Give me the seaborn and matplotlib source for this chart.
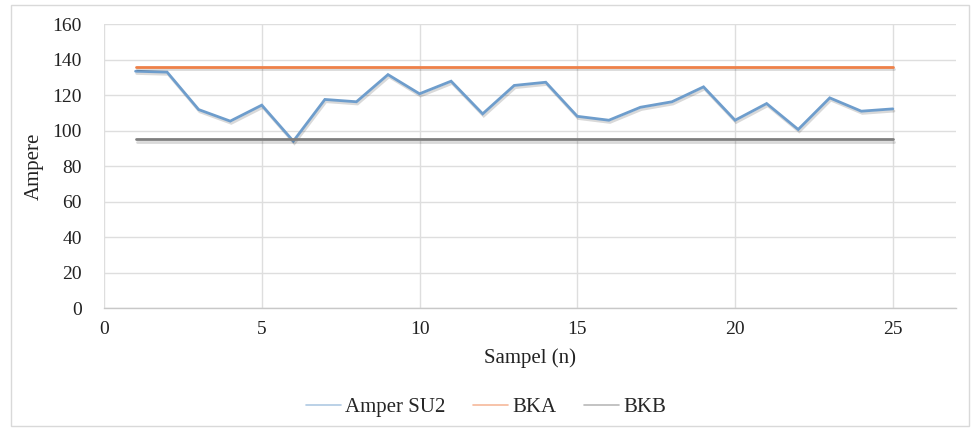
import numpy as np
import pandas as pd
import matplotlib
matplotlib.use("Agg")
import matplotlib.pyplot as plt
import matplotlib.patheffects as pe
import seaborn as sns

# Sample index and measured current
sampel = list(range(1, 26))
amper_su2 = [133.4, 132.9, 111.8, 105.3, 114.3, 94.0, 117.5, 116.2, 131.5, 120.7,
             127.8, 109.4, 125.4, 127.2, 108.0, 105.8, 113.1, 116.2, 124.6, 105.8,
             115.2, 100.6, 118.4, 110.9, 112.2]
# Control limits
bka = 136
bkb = 95

series_names = ["Amper SU2", "BKA", "BKB"]
colors = {"Amper SU2": "#6E9DCC", "BKA": "#EE8048", "BKB": "#7F7F7F"}

df = pd.concat([
    pd.DataFrame({"Sampel": sampel, "Nilai": amper_su2, "Seri": "Amper SU2"}),
    pd.DataFrame({"Sampel": sampel, "Nilai": [bka] * len(sampel), "Seri": "BKA"}),
    pd.DataFrame({"Sampel": sampel, "Nilai": [bkb] * len(sampel), "Seri": "BKB"}),
])

sns.set_theme(style="white")
plt.rcParams["font.family"] = ["Liberation Serif", "DejaVu Serif"]

fig = plt.figure(figsize=(9.72, 4.29), dpi=100)
ax = fig.add_axes([0.107, 0.282, 0.8765, 0.662])

sns.lineplot(data=df, x="Sampel", y="Nilai", hue="Seri", hue_order=series_names,
             palette=colors, linewidth=2.0, ax=ax, legend=False)

shadow = [pe.SimpleLineShadow(offset=(0.8, -1.6), shadow_color="#000000", alpha=0.15),
          pe.Normal()]
for line in ax.get_lines():
    line.set_path_effects(shadow)
    line.set_solid_joinstyle("miter")

ax.set_xlim(0, 27)
ax.set_ylim(0, 160)
ax.set_xticks([0, 5, 10, 15, 20, 25])
ax.set_yticks(range(0, 161, 20))
ax.grid(True, color="#DEDEDE", linewidth=1.0)
ax.set_axisbelow(True)
for s in ["top", "right", "left"]:
    ax.spines[s].set_visible(False)
ax.spines["bottom"].set_color("#C8C8C8")
ax.spines["bottom"].set_linewidth(1.0)
ax.tick_params(axis="both", length=0, labelsize=14, colors="#222222")
ax.tick_params(axis="x", pad=9)
ax.tick_params(axis="y", pad=16)

ax.set_xlabel("Sampel (n)", fontsize=15, color="#222222", labelpad=8)
ax.set_ylabel("Ampere", fontsize=15, color="#222222", labelpad=6)

handles = [plt.Line2D([], [], color=colors[n], linewidth=1.2, alpha=0.55) for n in series_names]
fig.legend(handles, series_names, loc="center", bbox_to_anchor=(0.5, 0.05),
           ncol=3, frameon=False, fontsize=15, handlelength=1.7,
           handletextpad=0.2, columnspacing=1.3)

# Light outer chart border
fig.patches.append(plt.Rectangle((0.011, 0.008), 0.986, 0.98, transform=fig.transFigure,
                                 fill=False, edgecolor="#D9D9D9", linewidth=1.0))

fig.savefig("out.png", dpi=100)
